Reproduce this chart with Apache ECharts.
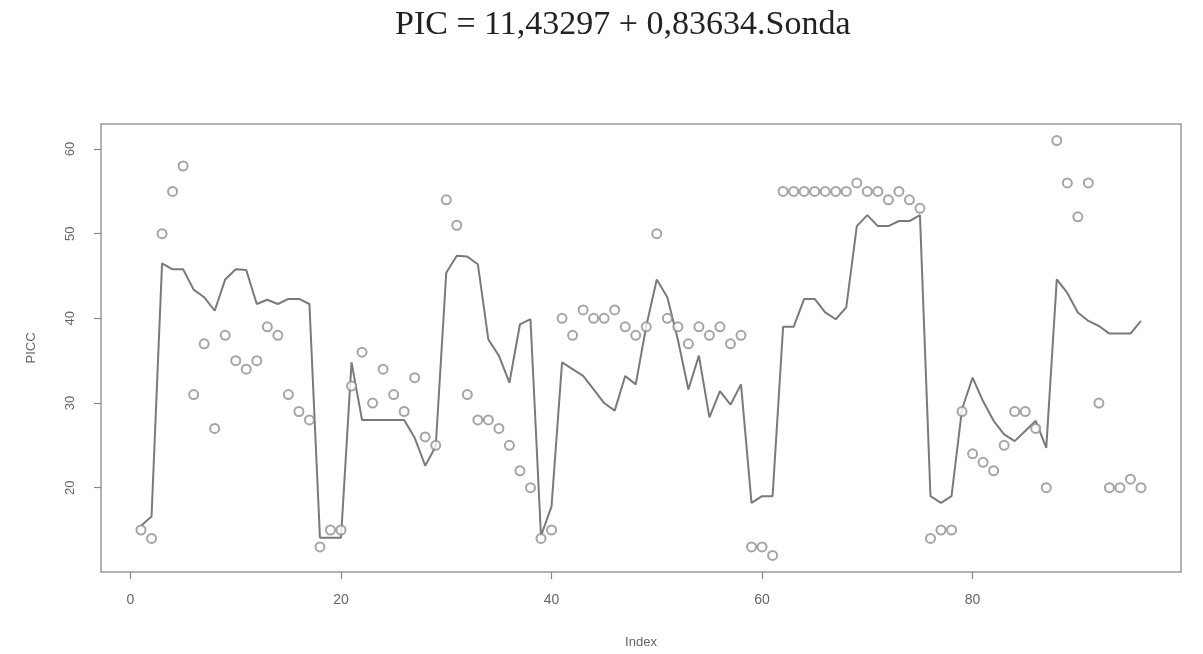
<!DOCTYPE html>
<html>
<head>
<meta charset="utf-8">
<title>PIC = 11,43297 + 0,83634.Sonda</title>
<script src="https://cdn.jsdelivr.net/npm/echarts@6/dist/echarts.min.js"></script>
<style>
  html, body { margin: 0; padding: 0; background: #fff; }
  #main { width: 1203px; height: 654px; }
</style>
</head>
<body>
<div id="main"></div>
<script>
// observed PICC values, index 1..96
const picc = [
  15, 14, 50, 55, 58, 31, 37, 27, 38, 35, 34, 35, 39, 38, 31, 29, 28, 13, 15, 15,
  32, 36, 30, 34, 31, 29, 33, 26, 25, 54, 51, 31, 28, 28, 27, 25, 22, 20, 14, 15,
  40, 38, 41, 40, 40, 41, 39, 38, 39, 50, 40, 39, 37, 39, 38, 39, 37, 38, 13, 13,
  12, 55, 55, 55, 55, 55, 55, 55, 56, 55, 55, 54, 55, 54, 53, 14, 15, 15, 29, 24,
  23, 22, 25, 29, 29, 27, 20, 61, 56, 52, 56, 30, 20, 20, 21, 20
];

// fitted PIC from the sonda readings
const fitted = [
  15.5, 16.6, 46.5, 45.8, 45.8, 43.4, 42.5, 40.9, 44.6, 45.8, 45.7, 41.7, 42.2, 41.7, 42.3, 42.3, 41.7, 14.1, 14.1, 14.1,
  34.8, 28.0, 28.0, 28.0, 28.0, 28.0, 25.9, 22.6, 24.9, 45.4, 47.4, 47.3, 46.4, 37.5, 35.6, 32.4, 39.3, 39.9, 14.3, 17.8,
  34.8, 34.0, 33.2, 31.6, 30.0, 29.1, 33.2, 32.2, 39.1, 44.6, 42.5, 37.5, 31.6, 35.6, 28.3, 31.4, 29.8, 32.2, 18.2, 19.0,
  19.0, 39.0, 39.0, 42.3, 42.3, 40.7, 39.9, 41.3, 50.9, 52.2, 50.9, 50.9, 51.5, 51.5, 52.2, 19.0, 18.2, 19.0, 29.3, 33.0,
  30.2, 27.9, 26.3, 25.5, 26.7, 27.9, 24.7, 44.6, 43.0, 40.7, 39.7, 39.1, 38.2, 38.2, 38.2, 39.7
];

const xTicks = [0, 20, 40, 60, 80];
const yTicks = [20, 30, 40, 50, 60];

const pointData = picc.map((v, i) => [i + 1, v]);
const lineData = fitted.map((v, i) => [i + 1, v]);

const chart = echarts.init(document.getElementById('main'));
chart.setOption({
  animation: false,
  backgroundColor: '#fff',
  title: {
    text: 'PIC = 11,43297 + 0,83634.Sonda',
    left: 390,
    top: 3,
    textStyle: {
      fontFamily: 'Liberation Serif',
      fontSize: 34,
      fontWeight: 'normal',
      color: '#222'
    }
  },
  grid: {
    left: 101,
    top: 124,
    width: 1080,
    height: 448,
    show: true,
    borderColor: '#999',
    borderWidth: 1.5
  },
  xAxis: {
    type: 'value',
    min: -2.8,
    max: 99.8,
    name: 'Index',
    nameLocation: 'middle',
    nameGap: 64,
    nameTextStyle: { fontFamily: 'Liberation Sans', fontSize: 13, color: '#666' },
    axisLine: { show: false, onZero: false },
    splitLine: { show: false },
    axisTick: {
      show: true,
      customValues: xTicks,
      length: 7,
      lineStyle: { color: '#888', width: 1.2 }
    },
    axisLabel: {
      customValues: xTicks,
      margin: 21,
      fontFamily: 'Liberation Sans',
      fontSize: 14,
      color: '#666'
    }
  },
  yAxis: {
    type: 'value',
    min: 10.04,
    max: 62.96,
    name: 'PICC',
    nameLocation: 'middle',
    nameGap: 63,
    nameRotate: 90,
    nameTextStyle: { fontFamily: 'Liberation Sans', fontSize: 13, color: '#666' },
    axisLine: { show: false, onZero: false },
    splitLine: { show: false },
    axisTick: {
      show: true,
      customValues: yTicks,
      length: 7,
      lineStyle: { color: '#888', width: 1.2 }
    },
    axisLabel: {
      customValues: yTicks,
      rotate: 90,
      margin: 24,
      fontFamily: 'Liberation Sans',
      fontSize: 13,
      color: '#666'
    }
  },
  series: [
    {
      type: 'line',
      data: lineData,
      symbol: 'none',
      lineStyle: { color: '#7a7a7a', width: 2 },
      z: 2
    },
    {
      type: 'scatter',
      data: pointData,
      symbol: 'emptyCircle',
      symbolSize: 9,
      itemStyle: { color: '#8f8f8f', borderColor: '#8f8f8f', borderWidth: 1.2 },
      z: 3
    }
  ]
});
</script>
</body>
</html>
